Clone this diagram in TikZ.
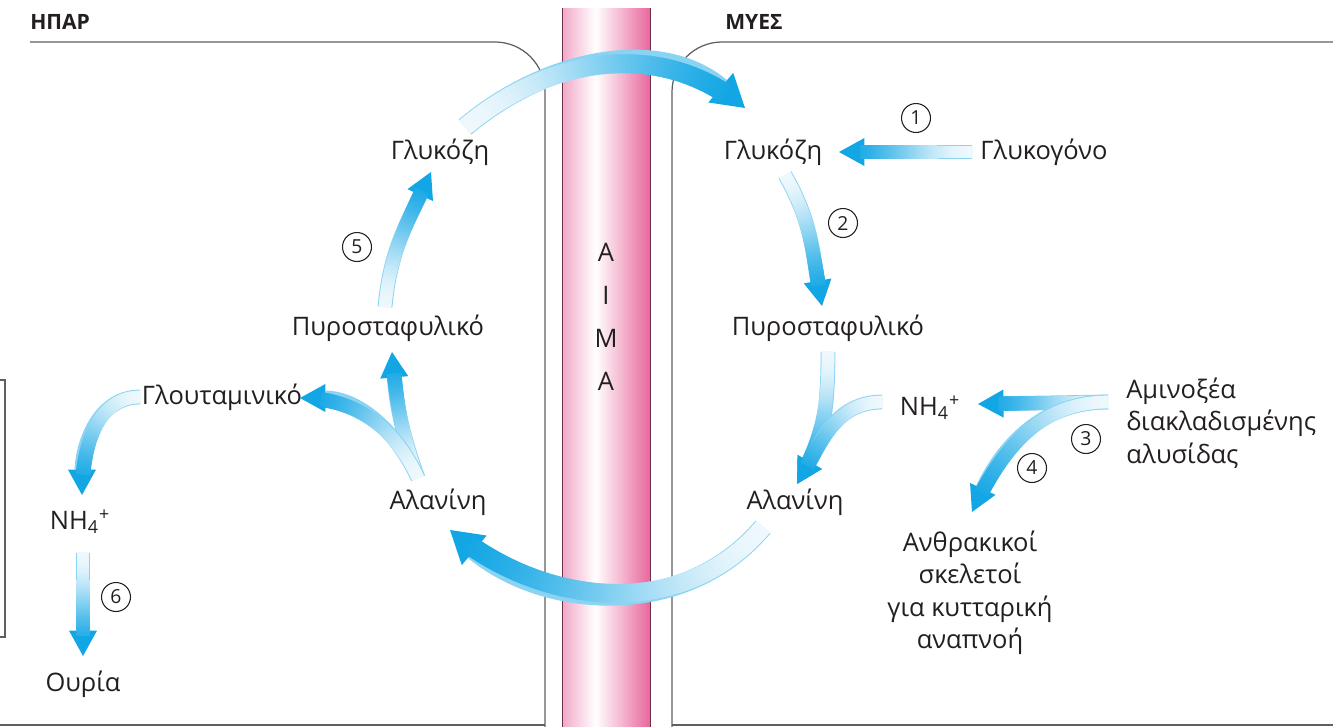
\documentclass[tikz,border=0pt]{standalone}
\usepackage{fontspec}
\setmainfont{Open Sans}
\usetikzlibrary{arrows.meta,decorations.markings,calc}

\definecolor{flowblue}{HTML}{12A6E4}
\definecolor{flowpale}{HTML}{EEF8FD}
\colorlet{flowrim}{flowblue!45!flowpale}
\definecolor{inkgray}{HTML}{231F20}
\definecolor{cellgray}{HTML}{5E5F61}
\definecolor{vesselpinkL}{HTML}{F2A8C8}
\definecolor{vesselpinkR}{HTML}{E8679D}
\definecolor{vesseledge}{HTML}{6E3048}

\pgfdeclarehorizontalshading{vessel}{100bp}{color(0bp)=(vesselpinkL); color(25bp)=(vesselpinkL); color(44bp)=(white); color(75bp)=(vesselpinkR); color(100bp)=(vesselpinkR)}

% one slice of a shaded arrow shaft, #1 = half width
\newcommand{\flowpiece}[1]{%
  \pgfmathsetmacro\flowt{\pgfkeysvalueof{/pgf/decoration/mark info/distance from start}/\pgfdecoratedpathlength}%
  \pgfmathsetmacro\flowpct{100*\flowt*\flowt*(3-2*\flowt)}%
  \pgfmathsetmacro\flowhw{#1+0.6*\flowpct/100}%
  \fill[flowblue!\flowpct!flowpale] (-0.3pt,-\flowhw pt) rectangle (0.5pt,\flowhw pt);%
}

\begin{document}
\begin{tikzpicture}[x=0.02cm, y=-0.02cm,
    every node/.style={text=inkgray},
    lbl/.style={font=\fontsize{14.5}{18.5}\selectfont, inner sep=0pt},
    hdr/.style={font=\fontsize{12}{14}\selectfont\bfseries, anchor=west, inner sep=0pt},
    stepnum/.style={draw=inkgray, circle, line width=0.6pt, minimum size=0.58cm, inner sep=0pt, font=\fontsize{11}{11}\selectfont},
    cell/.style={draw=cellgray, line width=0.7pt, rounded corners=1cm},
    flow/.style={draw=flowrim, line width=8.4pt, -{Triangle[width=16pt,length=14.5pt,line width=0pt,color=flowblue]},
        postaction={draw=none, decorate, decoration={markings, mark=between positions 0 and -12pt step 0.5pt with {\flowpiece{3.6pt}}}}},
    bigflow/.style={draw=flowrim, line width=11.2pt, -{Triangle[width=22pt,length=18pt,line width=0pt,color=flowblue]},
        postaction={draw=none, decorate, decoration={markings, mark=between positions 0 and -15pt step 0.5pt with {\flowpiece{5pt}}}}}
]
    \useasboundingbox (0,0) rectangle (1333,727);

    % liver and muscle cells, blood vessel between them
    \draw[cell] (30,42) -- (545,42) -- (545,727);
    \draw[cell] (1333,42) -- (672,42) -- (672,727);
    \draw[cellgray, line width=0.7pt] (0,725) -- (545,725) (672,725) -- (1333,725);
    \draw[cellgray, line width=0.7pt] (0,380) -| (5,637) -- (0,637);
    \shade[shading=vessel] (562,8) rectangle (650,727);
    \draw[vesseledge, line width=0.5pt] (562,8) -- (562,727) (650,8) -- (650,727);

    \node[hdr] (liver) at (30,22) {ΗΠΑΡ};
    \node[hdr] (muscle) at (725,22) {ΜΥΕΣ};
    \node[lbl, align=center, font=\fontsize{14.5}{24.6}\selectfont] (blood) at (606,317) {Α\\Ι\\Μ\\Α};

    % liver side
    \node[lbl] (gluL) at (440,152) {Γλυκόζη};
    \node[lbl] (pyrL) at (388,328) {Πυροσταφυλικό};
    \node[lbl] (glut) at (222,397) {Γλουταμινικό};
    \node[lbl] (alaL) at (438,502) {Αλανίνη};
    \node[lbl] (nhL) at (80,522) {NH\textsubscript{4}\textsuperscript{+}};
    \node[lbl] (urea) at (83,684) {Ουρία};

    % muscle side
    \node[lbl] (gluR) at (773,152) {Γλυκόζη};
    \node[lbl] (glyc) at (1044,152) {Γλυκογόνο};
    \node[lbl] (pyrR) at (828,328) {Πυροσταφυλικό};
    \node[lbl] (alaR) at (795,502) {Αλανίνη};
    \node[lbl] (nhR) at (930,408) {NH\textsubscript{4}\textsuperscript{+}};
    \node[lbl, anchor=west, align=left] (amino) at (1126,423) {Αμινοξέα\\διακλαδισμένης\\αλυσίδας};
    \node[lbl, align=center] (carbon) at (970,593) {Ανθρακικοί\\σκελετοί\\για κυτταρική\\αναπνοή};

    \node[stepnum] (s1) at (916,118) {1};
    \node[stepnum] (s2) at (843,223) {2};
    \node[stepnum] (s3) at (1086,439) {3};
    \node[stepnum] (s4) at (1032,468) {4};
    \node[stepnum] (s5) at (357,247) {5};
    \node[stepnum] (s6) at (116,597) {6};

    \draw[bigflow] ([shift={(25,-25)}]gluL.center) to[out=40,in=140] ([shift={(-28,-44)}]gluR.center);   % glucose out to muscle
    \draw[bigflow] ([shift={(-32,25)}]alaR.center) to[out=230,in=-40] ([shift={(12,28)}]alaL.center);   % alanine back to liver
    \draw[flow] ([shift={(-72,0)}]glyc.center) -- ([shift={(66,0)}]gluR.center);                      % step 1
    \draw[flow] ([shift={(12,23)}]gluR.center) to[out=-60,in=100] ([shift={(-6,-22)}]pyrR.center);      % step 2
    \draw[flow] ([shift={(0,24)}]pyrR.center) to[out=-90,in=60] ([shift={(2,-18)}]alaR.center);
    \draw[flow] ([shift={(-48,-6)}]nhR.center) to[out=180,in=60] ([shift={(2,-18)}]alaR.center);
    \draw[flow] ([shift={(-18,-21)}]amino.west) -- ([shift={(48,-4)}]nhR.center);                      % step 3
    \draw[flow] ([shift={(-18,-21)}]amino.west) to[out=180,in=65] ([shift={(2,-81)}]carbon.center);     % step 4
    \draw[flow] ([shift={(-20,-24)}]alaL.center) to[out=110,in=-85] ([shift={(4,24)}]pyrL.center);
    \draw[flow] ([shift={(-20,-24)}]alaL.center) to[out=115,in=0] ([shift={(78,1)}]glut.center);
    \draw[flow] ([shift={(-3,-21)}]pyrL.center) to[out=85,in=-115] ([shift={(-9,20)}]gluL.center);     % step 5
    \draw[flow] ([shift={(-82,0)}]glut.center) to[out=180,in=90] ([shift={(2,-27)}]nhL.center);
    \draw[flow] ([shift={(3,31)}]nhL.center) -- ([shift={(0,-28)}]urea.center);                        % step 6
\end{tikzpicture}
\end{document}
